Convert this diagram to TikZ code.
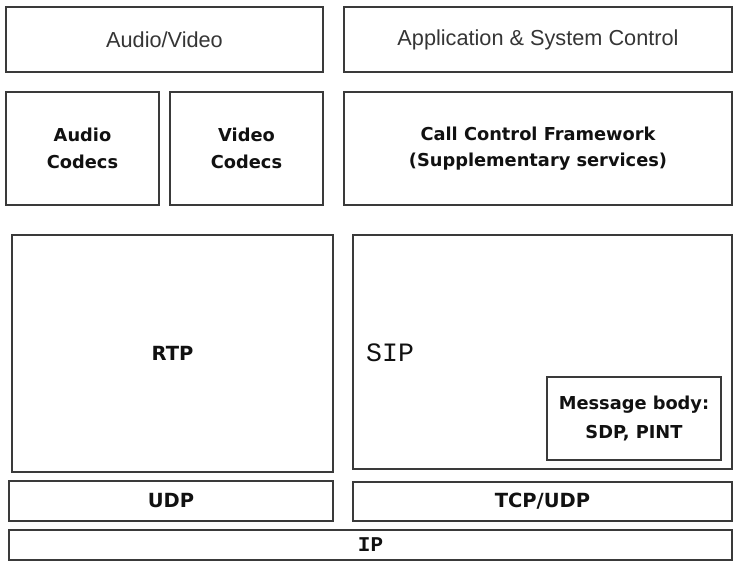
\documentclass[tikz,border=0pt]{standalone}
\usepackage{fontspec}
\setmainfont{DejaVu Sans}
\newfontfamily\lightfont{Liberation Sans}
\newfontfamily\monofont{Liberation Mono}
\definecolor{edge}{HTML}{3A3A3A}
\definecolor{ink}{HTML}{111111}
\tikzset{
  box/.style={draw=edge, line width=1.6pt, rectangle, inner sep=0pt, outer sep=0pt, align=center, text=ink},
  boldlbl/.style={font=\fontsize{17.8}{26.5}\selectfont\bfseries},
  biglbl/.style={font=\fontsize{19.5}{22}\selectfont\bfseries},
  thinlbl/.style={font=\lightfont\fontsize{21.7}{24}\selectfont, text=ink!85},
}
\begin{document}
\begin{tikzpicture}[x=1pt,y=-1pt]
\useasboundingbox[fill=white] (0,0) rectangle (742,570);
% top row
\node[box, thinlbl, minimum width=317pt, minimum height=65pt] (av) at (164.5,39.5) {Audio/Video};
\node[box, thinlbl, minimum width=388pt, minimum height=65pt] (app) at (538,39.5) {Application \& System Control};
% codecs and call control
\node[box, boldlbl, minimum width=153pt, minimum height=113pt] (ac) at (82.5,148.5) {Audio\\Codecs};
\node[box, boldlbl, minimum width=153pt, minimum height=113pt] (vc) at (246.5,148.5) {Video\\Codecs};
\node[box, boldlbl, minimum width=388pt, minimum height=113pt] (ccf) at (538,148.5) {Call Control Framework\\(Supplementary services)};
% RTP and SIP
\node[box, biglbl, minimum width=321pt, minimum height=237pt] (rtp) at (172.5,353.5) {RTP};
\node[box, minimum width=379pt, minimum height=234pt] (sip) at (542.5,352) {};
\node[anchor=west, inner sep=0pt, text=ink, font=\monofont\fontsize{26.5}{28}\selectfont] (siplbl) at (366,353) {SIP};
\node[box, font=\fontsize{17.8}{29.5}\selectfont\bfseries, minimum width=174pt, minimum height=83pt] (msg) at (634,418.5) {Message body:\\SDP, PINT};
% transport
\node[box, biglbl, minimum width=324pt, minimum height=40pt] (udp) at (171,501) {UDP};
\node[box, biglbl, minimum width=379pt, minimum height=39pt] (tcp) at (542.5,501.5) {TCP/UDP};
% network
\node[box, font=\monofont\bfseries\fontsize{21}{22}\selectfont, minimum width=723pt, minimum height=30pt] (ip) at (370.5,545) {IP};
\end{tikzpicture}
\end{document}
